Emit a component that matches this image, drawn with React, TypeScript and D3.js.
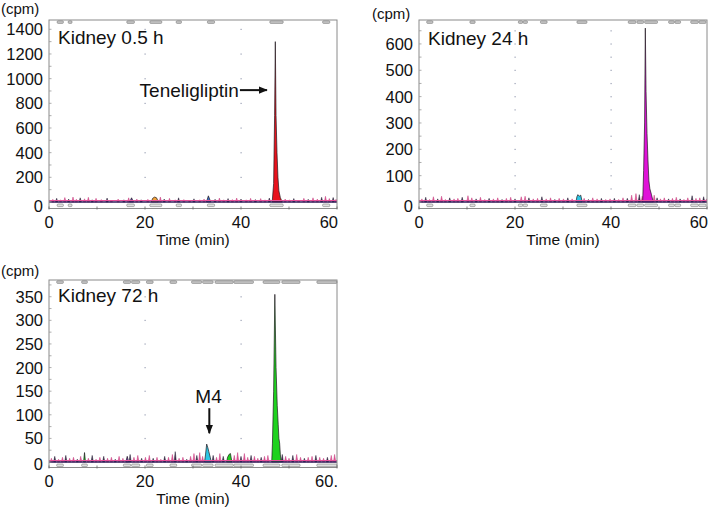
import React from "react";
import * as d3 from "d3";

type Pt = [number, number];

// ---------------- DATA ----------------
const X_TICKS = [0, 20, 40, 60];
const X_LABELS_A = ["0", "20", "40", "60"];
const X_LABELS_C = ["0", "20", "40", "60."];
const GRID_X = [20, 40];

const Y_TICKS_A = [0, 200, 400, 600, 800, 1000, 1200, 1400];
const Y_TICKS_B = [0, 100, 200, 300, 400, 500, 600];
const Y_TICKS_C = [0, 50, 100, 150, 200, 250, 300, 350];

// noise spikes [time (min), cpm]
const NOISE_A: Pt[] = [
  [0.8, 22], [1.6, 30], [2.4, 18], [3.3, 36], [4.1, 24], [5.0, 40], [5.7, 22], [6.5, 34], [7.4, 26], [8.2, 38],
  [9.0, 18], [9.8, 30], [10.9, 20], [12.1, 32], [13.0, 16], [14.4, 24], [15.6, 18], [16.6, 34], [18.3, 24],
  [19.2, 18], [20.6, 22], [23.2, 40], [24.0, 24], [25.1, 30], [26.3, 18], [27.0, 34], [28.1, 20], [29.3, 16],
  [30.2, 26], [31.4, 18], [32.3, 24], [34.6, 22], [35.5, 32], [36.4, 18], [37.3, 28], [38.2, 20], [39.1, 32],
  [40.0, 24], [41.1, 18], [42.0, 30], [43.0, 20], [44.1, 28], [45.0, 18], [45.9, 32], [49.2, 24], [50.1, 18],
  [51.0, 28], [52.0, 16], [53.1, 30], [54.0, 22], [55.0, 34], [55.9, 24], [56.8, 38], [57.6, 46], [58.4, 28],
  [59.2, 36], [59.8, 22],
];
const NOISE_B: Pt[] = [
  [0.6, 12], [1.4, 18], [2.2, 10], [3.0, 20], [3.9, 12], [4.7, 22], [5.5, 10], [6.4, 16], [7.3, 12], [8.1, 14],
  [9.0, 18], [10.2, 24], [11.0, 16], [11.9, 12], [12.8, 18], [13.7, 10], [14.6, 14], [15.5, 12], [16.4, 16],
  [17.3, 10], [18.2, 14], [19.1, 18], [20.0, 12], [21.3, 20], [22.1, 22], [22.9, 16], [23.8, 12], [24.7, 14],
  [25.6, 20], [26.5, 12], [27.4, 16], [28.3, 10], [29.2, 14], [30.1, 12], [31.0, 16], [31.9, 12], [34.4, 14],
  [35.3, 10], [36.2, 16], [37.1, 12], [38.0, 14], [38.9, 10], [39.8, 12], [40.7, 14], [41.6, 10], [42.5, 16],
  [43.4, 14], [44.3, 26], [45.2, 32], [45.9, 28], [46.5, 22], [49.0, 26], [49.6, 16], [50.3, 12], [51.1, 16],
  [52.0, 12], [52.8, 14], [53.6, 18], [54.4, 12], [55.2, 10], [56.0, 16], [56.9, 24], [57.7, 14], [58.5, 16],
  [59.3, 20], [59.9, 12],
];
const NOISE_C: Pt[] = [
  [0.5, 8], [1.2, 12], [2.0, 6], [2.8, 10], [3.5, 14], [4.3, 8], [5.1, 10], [5.9, 6], [6.6, 12], [8.2, 8],
  [9.0, 14], [9.8, 6], [10.6, 10], [11.4, 12], [12.2, 8], [13.0, 10], [13.8, 6], [14.6, 12], [15.4, 8],
  [16.9, 16], [17.7, 10], [18.5, 14], [19.3, 8], [20.1, 10], [20.9, 14], [21.7, 8], [22.5, 10], [23.3, 6],
  [24.1, 12], [24.9, 10], [25.7, 16], [26.3, 22], [27.1, 8], [27.9, 10], [28.7, 6], [29.5, 12], [30.2, 18],
  [30.8, 14], [31.4, 20], [32.0, 12], [34.2, 14], [34.9, 10], [35.6, 18], [36.3, 12], [38.6, 14], [39.3, 20],
  [40.0, 12], [40.7, 18], [41.4, 10], [42.1, 14], [42.8, 12], [43.5, 8], [44.2, 10], [44.9, 12], [45.6, 14],
  [48.6, 16], [49.3, 12], [50.0, 8], [50.8, 14], [51.6, 16], [52.4, 10], [53.2, 8], [54.0, 10], [54.8, 12],
  [55.6, 14], [56.4, 10], [57.2, 8], [58.0, 10], [58.8, 14], [59.5, 16],
];

// radioactive peaks [time (min), cpm]
const PEAK_A_MAIN: Pt[] = [[46.5, 0], [46.8, 150], [47.0, 700], [47.15, 1300], [47.3, 700], [47.5, 400], [47.7, 200], [47.9, 90], [48.2, 35], [48.6, 0]];
const PEAK_A_P1: Pt[] = [[16.8, 0], [17.2, 34], [17.6, 0]];
const PEAK_A_P2: Pt[] = [[21.3, 0], [21.6, 30], [22.0, 40], [22.4, 34], [22.8, 0]];
const PEAK_A_P3: Pt[] = [[32.8, 0], [33.2, 50], [33.7, 0]];

const PEAK_B_MAIN: Pt[] = [[46.6, 0], [46.8, 120], [47.0, 300], [47.15, 660], [47.3, 420], [47.5, 260], [47.7, 160], [47.9, 80], [48.1, 50], [48.4, 30], [48.8, 0]];
const PEAK_B_P1: Pt[] = [[32.7, 0], [32.9, 20], [33.1, 28], [33.4, 22], [33.7, 26], [34.0, 0]];

const PEAK_C_MAIN: Pt[] = [[46.4, 0], [46.55, 40], [46.8, 150], [47.05, 355], [47.3, 200], [47.55, 120], [47.75, 80], [47.9, 50], [48.05, 40], [48.2, 15], [48.4, 0]];
const PEAK_C_P1: Pt[] = [[7.2, 0], [7.4, 20], [7.6, 0]];
const PEAK_C_P2: Pt[] = [[16.0, 0], [16.3, 12], [16.6, 0]];
const PEAK_C_M4: Pt[] = [[32.4, 0], [32.6, 15], [32.85, 38], [33.1, 30], [33.3, 22], [33.6, 10], [33.8, 0]];
const PEAK_C_P3: Pt[] = [[37.0, 0], [37.2, 10], [37.5, 16], [37.8, 18], [38.1, 0]];

// integration region markers [start, end] (min)
const MARK_A: Pt[] = [[1.7, 3.0], [4.0, 4.8], [16.2, 17.8], [21.0, 23.5], [26.5, 27.6], [33.0, 34.5], [46.0, 48.8], [57.0, 58.5]];
const MARK_B: Pt[] = [[1.6, 2.9], [10.6, 11.7], [20.7, 21.6], [21.7, 22.6], [25.3, 26.7], [32.9, 35.0], [43.6, 45.2], [45.4, 46.8], [47.0, 49.7], [52.0, 53.2], [53.3, 54.5], [56.6, 58.2], [58.3, 59.8]];
const MARK_C: Pt[] = [[1.6, 3.0], [6.8, 8.0], [15.5, 17.0], [17.2, 18.9], [20.3, 21.7], [25.2, 26.6], [29.7, 31.8], [32.0, 34.2], [34.6, 38.4], [38.5, 42.6], [44.6, 48.1], [48.5, 52.3], [55.8, 60.0]];

// ---------------- CONFIG ----------------
type PeakDef = { color: string; points: Pt[] };
type PanelCfg = {
  left: number; right: number; top: number; bottom: number;
  yDomain: [number, number]; yTicks: number[]; minorStep: number; dotStep: number;
  xLabels: string[]; noise: Pt[]; peaks: PeakDef[]; marks: Pt[];
  title: string; titleX: number; titleY: number; cpmX: number; cpmY: number; zeroShift: number;
};

const PANELS: PanelCfg[] = [
  {
    left: 49, right: 337, top: 20, bottom: 208.5, yDomain: [-52.7, 1475.4], yTicks: Y_TICKS_A, minorStep: 100, dotStep: 200,
    xLabels: X_LABELS_A, noise: NOISE_A, marks: MARK_A,
    peaks: [
      { color: "#e8121c", points: PEAK_A_MAIN }, { color: "#7040b0", points: PEAK_A_P1 },
      { color: "#f2a23a", points: PEAK_A_P2 }, { color: "#3a6cc8", points: PEAK_A_P3 },
    ],
    title: "Kidney 0.5 h", titleX: 58, titleY: 43.5, cpmX: 1, cpmY: 14, zeroShift: 4.5,
  },
  {
    left: 419, right: 707, top: 20, bottom: 208.5, yDomain: [-24.6, 690.8], yTicks: Y_TICKS_B, minorStep: 50, dotStep: 50,
    xLabels: X_LABELS_A, noise: NOISE_B, marks: MARK_B,
    peaks: [{ color: "#e012d8", points: PEAK_B_MAIN }, { color: "#2cc6e4", points: PEAK_B_P1 }],
    title: "Kidney 24 h", titleX: 428, titleY: 44.5, cpmX: 372, cpmY: 18.5, zeroShift: 4.5,
  },
  {
    left: 49, right: 337, top: 280, bottom: 467.5, yDomain: [-11.6, 385.4], yTicks: Y_TICKS_C, minorStep: 25, dotStep: 50,
    xLabels: X_LABELS_C, noise: NOISE_C, marks: MARK_C,
    peaks: [
      { color: "#1ed21e", points: PEAK_C_MAIN }, { color: "#1ed21e", points: PEAK_C_P1 },
      { color: "#8040c0", points: PEAK_C_P2 }, { color: "#2cc6e4", points: PEAK_C_M4 },
      { color: "#1ed21e", points: PEAK_C_P3 },
    ],
    title: "Kidney 72 h", titleX: 58, titleY: 302, cpmX: 1, cpmY: 276, zeroShift: 2,
  },
];

const FONT = "'Liberation Sans', Arial, Helvetica, sans-serif";

function spikeShape([t, v]: Pt): Pt[] {
  return [[t - 0.24, 0], [t, v], [t + 0.24, 0]];
}

function Panel({ cfg, idx, children }: { cfg: PanelCfg; idx: number; children?: (x: any, y: any) => React.ReactNode }) {
  const x = d3.scaleLinear().domain([0, 60]).range([cfg.left, cfg.right]);
  const y = d3.scaleLinear().domain(cfg.yDomain).range([cfg.bottom, cfg.top]);
  const y0 = y(0);
  const area = d3.area<Pt>().x((d) => x(d[0])).y0(y0).y1((d) => y(d[1]));
  const minor = d3.range(0, cfg.yDomain[1], cfg.minorStep);
  const dots = d3.range(cfg.dotStep, cfg.yDomain[1], cfg.dotStep);
  const clipId = `clip${idx}`;
  return (
    <g fontFamily={FONT}>
      <defs>
        <clipPath id={clipId}>
          <rect x={cfg.left} y={cfg.top} width={cfg.right - cfg.left} height={cfg.bottom - cfg.top} />
        </clipPath>
      </defs>
      {/* grid dots */}
      {GRID_X.map((g) =>
        dots.map((v) => <rect key={`d${g}-${v}`} x={x(g) - 0.5} y={y(v) - 0.5} width={1.2} height={1.2} fill="#9aa0b4" />)
      )}
      {/* markers */}
      {cfg.marks.map(([a, b], i) => (
        <g key={`m${i}`}>
          <rect x={x(a)} y={cfg.top + 0.8} width={x(b) - x(a)} height={2.6} rx={1} fill="#c4c4c4" stroke="#7a7a7a" strokeWidth={0.6} />
          <rect x={x(a)} y={y0 + 2} width={x(b) - x(a)} height={2.6} rx={1} fill="#e0e0e0" stroke="#7a7a7a" strokeWidth={0.6} />
        </g>
      ))}
      <g clipPath={`url(#${clipId})`}>
        {cfg.noise.map((s, i) => (
          <path
            key={`n${i}`}
            d={area(spikeShape(s)) || ""}
            fill={i % 3 === 1 ? "#3a2a48" : "#e8579a"}
            stroke={i % 3 === 1 ? "#2a1e38" : "#c23a7c"}
            strokeWidth={0.5}
          />
        ))}
        {cfg.peaks.map((p, i) => (
          <path key={`p${i}`} d={area(p.points) || ""} fill={p.color} stroke="#201820" strokeWidth={0.7} strokeLinejoin="round" />
        ))}
        <line x1={cfg.left} x2={cfg.right} y1={y0 - 1.5} y2={y0 - 1.5} stroke="#e8509a" strokeWidth={1.2} />
        <line x1={cfg.left} x2={cfg.right} y1={y0} y2={y0} stroke="#301e5a" strokeWidth={1.5} />
      </g>
      {/* box */}
      <rect x={cfg.left} y={cfg.top} width={cfg.right - cfg.left} height={cfg.bottom - cfg.top} fill="none" stroke="#8a8a8a" strokeWidth={1} />
      {/* minor y ticks */}
      {minor.map((v) => (
        <line key={`mt${v}`} x1={cfg.left} x2={cfg.left + 2.5} y1={y(v)} y2={y(v)} stroke="#999" strokeWidth={0.8} />
      ))}
      {/* x ticks */}
      {d3.range(0, 61, 10).map((t) => (
        <line key={`xt${t}`} x1={x(t)} x2={x(t)} y1={cfg.bottom - 2} y2={cfg.bottom + 1} stroke="#666" strokeWidth={0.8} />
      ))}
      {/* y labels */}
      {cfg.yTicks.map((v) => (
        <text key={`yl${v}`} x={cfg.left - 6} y={y(v) + (v === 0 ? cfg.zeroShift : 0)} dy="0.36em" textAnchor="end" fontSize={16.5} fill="#111">
          {v}
        </text>
      ))}
      {/* x labels */}
      {X_TICKS.map((t, i) => (
        <text
          key={`xl${t}`}
          x={i === X_TICKS.length - 1 ? cfg.right + 1 : x(t)}
          y={cfg.bottom + 19}
          textAnchor={i === X_TICKS.length - 1 ? "end" : "middle"}
          fontSize={16.5}
          fill="#111"
        >
          {cfg.xLabels[i]}
        </text>
      ))}
      <text x={(cfg.left + cfg.right) / 2} y={cfg.bottom + 36.5} textAnchor="middle" fontSize={15.5} fill="#111">
        Time (min)
      </text>
      <text x={cfg.cpmX} y={cfg.cpmY} fontSize={15} fill="#111">(cpm)</text>
      <text x={cfg.titleX} y={cfg.titleY} fontSize={19} fill="#111">{cfg.title}</text>
      {children ? children(x, y) : null}
    </g>
  );
}

// annotations
const TENE_TIP: Pt = [45.4, 907];
const M4_TIP: Pt = [33.4, 61];
const M4_TOP: number = 114;

export default function App() {
  return (
    <svg width={709} height={508} style={{ position: "absolute", left: 0, top: 0, background: "#fff" }}>
      <defs>
        <marker id="arr" viewBox="0 0 10 10" refX="9" refY="5" markerWidth="9" markerHeight="9" orient="auto-start-reverse" markerUnits="userSpaceOnUse">
          <path d="M0,1 L10,5 L0,9 z" fill="#111" />
        </marker>
      </defs>
      <rect x={0} y={0} width={709} height={508} fill="#fff" />
      <Panel cfg={PANELS[0]} idx={0}>
        {(x, y) => (
          <g>
            <text x={x(TENE_TIP[0]) - 28} y={y(TENE_TIP[1]) + 7} textAnchor="end" fontSize={19} fill="#111" fontFamily={FONT}>
              Teneligliptin
            </text>
            <line x1={x(TENE_TIP[0]) - 27} x2={x(TENE_TIP[0])} y1={y(TENE_TIP[1])} y2={y(TENE_TIP[1])} stroke="#111" strokeWidth={2} markerEnd="url(#arr)" />
          </g>
        )}
      </Panel>
      <Panel cfg={PANELS[1]} idx={1} />
      <Panel cfg={PANELS[2]} idx={2}>
        {(x, y) => (
          <g>
            <text x={x(M4_TIP[0]) - 0.8} y={y(M4_TOP) - 5} textAnchor="middle" fontSize={19} fill="#111" fontFamily={FONT}>
              M4
            </text>
            <line x1={x(M4_TIP[0])} x2={x(M4_TIP[0])} y1={y(M4_TOP)} y2={y(M4_TIP[1])} stroke="#111" strokeWidth={2} markerEnd="url(#arr)" />
          </g>
        )}
      </Panel>
    </svg>
  );
}
